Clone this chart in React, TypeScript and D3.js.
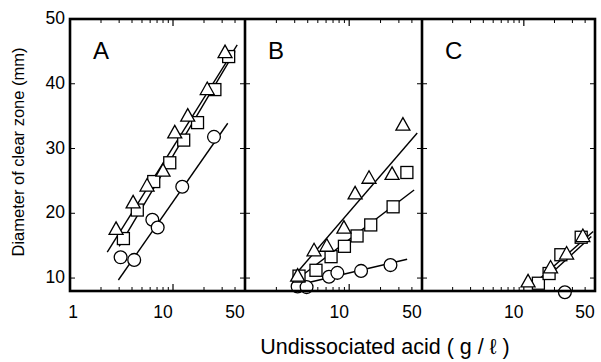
import React from "react";
import * as d3 from "d3";

// ---------- data ----------
const panelNames = ["A", "B", "C"];

// Panel A
const triA_x = [2.8, 4.1, 5.6, 8.0, 10.4, 13.9, 21.5, 32];
const triA_y = [17.7, 21.8, 24.4, 26.7, 32.6, 35.2, 39.3, 45.0];
const sqA_x = [3.3, 4.5, 6.5, 9.3, 12.7, 17.3, 25.5, 34.7];
const sqA_y = [16.1, 20.5, 24.9, 27.8, 31.3, 34.0, 39.1, 44.2];
const cirA_x = [3.1, 4.2, 6.3, 7.1, 12.3, 25.0];
const cirA_y = [13.2, 12.8, 19.0, 17.8, 24.1, 31.8];

// Panel B
const triB_x = [3.2, 4.6, 6.1, 8.9, 11.4, 15.5, 25.8, 32.8];
const triB_y = [10.5, 14.4, 15.1, 17.9, 23.2, 25.6, 26.2, 33.8];
const sqB_x = [3.3, 4.8, 6.7, 9.0, 11.9, 16.1, 26.4, 35.8];
const sqB_y = [10.3, 11.2, 13.3, 14.9, 16.5, 18.2, 21.0, 26.3];
const cirB_x = [3.2, 3.9, 6.4, 7.7, 13.0, 24.9];
const cirB_y = [8.7, 8.6, 10.2, 10.8, 11.1, 12.0];

// Panel C
const triC_x = [11.0, 18.3, 26.3, 38.0];
const triC_y = [9.6, 11.75, 13.9, 16.6];
const sqC_x = [13.9, 17.7, 23.1, 36.6];
const sqC_y = [9.2, 10.7, 13.6, 16.3];
const cirC_x = [25.3];
const cirC_y = [7.8];

// Fitted lines: [x0, x1], [y0, y1]
const lineA_tri = { x: [2.3, 42], y: [14.0, 46.0] };
const lineA_sq = { x: [3.0, 40], y: [14.9, 45.0] };
const lineA_cir = { x: [2.95, 34], y: [9.7, 33.9] };
const lineB_tri = { x: [3.3, 45], y: [11.2, 32.4] };
const lineB_sq = { x: [3.4, 42], y: [10.2, 23.6] };
const lineB_cir = { x: [3.8, 36], y: [9.2, 12.9] };
const lineC_tri = { x: [11.7, 48], y: [8.7, 17.2] };
const lineC_sq = { x: [12.8, 46], y: [8.4, 16.4] };

const yTicks = [10, 20, 30, 40, 50];
const xMinorTicks = [2, 3, 4, 5, 6, 7, 8, 9, 20, 30, 40];
const xMajorTicks = [10];
const xTickLabelsA = [1, 10, 50];
const xTickLabelsB = [10, 50];
const xTickLabelsC = [10, 50];

const yTitle = "Diameter of clear zone (mm)";
const xTitle = "Undissociated acid ( g / \u2113 )";

// ---------- layout ----------
const W = 601;
const H = 362;
const top = 19;
const bottom = 291;
const panelRanges: [number, number][] = [
  [70, 245],
  [245, 422],
  [422, 595],
];
const FONT = "'Liberation Sans', Arial, Helvetica, sans-serif";

type Line = { x: number[]; y: number[] };

const panelData = [
  {
    tri: { x: triA_x, y: triA_y },
    sq: { x: sqA_x, y: sqA_y },
    cir: { x: cirA_x, y: cirA_y },
    lines: [lineA_tri, lineA_sq, lineA_cir],
    labels: xTickLabelsA,
  },
  {
    tri: { x: triB_x, y: triB_y },
    sq: { x: sqB_x, y: sqB_y },
    cir: { x: cirB_x, y: cirB_y },
    lines: [lineB_tri, lineB_sq, lineB_cir],
    labels: xTickLabelsB,
  },
  {
    tri: { x: triC_x, y: triC_y },
    sq: { x: sqC_x, y: sqC_y },
    cir: { x: cirC_x, y: cirC_y },
    lines: [lineC_tri, lineC_sq],
    labels: xTickLabelsC,
  },
];

const y = d3.scaleLinear().domain([8, 50]).range([bottom, top]);

function Panel({ idx }: { idx: number }) {
  const [x0, x1] = panelRanges[idx];
  const x = d3.scaleLog().domain([1, 50]).range([x0, x1]);
  const d = panelData[idx];
  const lineGen = d3
    .line<[number, number]>()
    .x((p) => x(p[0]))
    .y((p) => y(p[1]));
  const sw = 1.3;
  const triPath = (cx: number, cy: number) => {
    const w = 14, h = 12.5;
    return `M${cx},${cy - h / 2}L${cx + w / 2},${cy + h / 2}L${cx - w / 2},${cy + h / 2}Z`;
  };
  const sqSize = 12;
  return (
    <g>
      {yTicks.slice(0, 4).map((v) => (
        <g key={"yt" + v}>
          <line x1={x0} x2={x0 + 5} y1={y(v)} y2={y(v)} stroke="#000" strokeWidth={1} />
          <line x1={x1 - 5} x2={x1} y1={y(v)} y2={y(v)} stroke="#000" strokeWidth={1} />
        </g>
      ))}
      {xMinorTicks.map((v) => (
        <g key={"xm" + v}>
          <line x1={x(v)} x2={x(v)} y1={bottom} y2={bottom - 4} stroke="#000" strokeWidth={1} />
          <line x1={x(v)} x2={x(v)} y1={top} y2={top + 4} stroke="#000" strokeWidth={1} />
        </g>
      ))}
      {xMajorTicks.map((v) => (
        <g key={"xM" + v}>
          <line x1={x(v)} x2={x(v)} y1={bottom} y2={bottom - 7} stroke="#000" strokeWidth={1.2} />
          <line x1={x(v)} x2={x(v)} y1={top} y2={top + 7} stroke="#000" strokeWidth={1.2} />
        </g>
      ))}
      {d.lines.map((l: Line, i: number) => (
        <path
          key={"l" + i}
          d={lineGen([
            [l.x[0], l.y[0]],
            [l.x[1], l.y[1]],
          ]) as string}
          fill="none"
          stroke="#000"
          strokeWidth={1.4}
        />
      ))}
      {d.cir.x.map((v: number, i: number) => (
        <circle key={"c" + i} cx={x(v)} cy={y(d.cir.y[i])} r={6.4} fill="#fff" stroke="#000" strokeWidth={sw} />
      ))}
      {d.sq.x.map((v: number, i: number) => (
        <rect
          key={"s" + i}
          x={x(v) - sqSize / 2}
          y={y(d.sq.y[i]) - sqSize / 2}
          width={sqSize}
          height={sqSize}
          fill="#fff"
          stroke="#000"
          strokeWidth={sw}
        />
      ))}
      {d.tri.x.map((v: number, i: number) => (
        <path key={"t" + i} d={triPath(x(v), y(d.tri.y[i]))} fill="#fff" stroke="#000" strokeWidth={sw} />
      ))}
      <text x={x0 + 23} y={59} fontFamily={FONT} fontSize={24} fill="#000">
        {panelNames[idx]}
      </text>
      {d.labels.map((v: number) => (
        <text
          key={"xl" + v}
          x={v === 1 ? x(v) + 3 : x(v) - 10}
          y={318}
          fontFamily={FONT}
          fontSize={17.5}
          textAnchor="middle"
          fill="#000"
        >
          {v}
        </text>
      ))}
    </g>
  );
}

export default function App() {
  return (
    <svg
      width={W}
      height={H}
      style={{ position: "absolute", left: 0, top: 0, background: "#fff" }}
    >
      <rect x={0} y={0} width={W} height={H} fill="#fff" />
      {panelNames.map((_, i) => (
        <Panel key={i} idx={i} />
      ))}
      <rect
        x={panelRanges[0][0]}
        y={top}
        width={panelRanges[2][1] - panelRanges[0][0]}
        height={bottom - top}
        fill="none"
        stroke="#000"
        strokeWidth={2.6}
      />
      <line x1={panelRanges[1][0]} x2={panelRanges[1][0]} y1={top} y2={bottom} stroke="#000" strokeWidth={2.6} />
      <line x1={panelRanges[2][0]} x2={panelRanges[2][0]} y1={top} y2={bottom} stroke="#000" strokeWidth={2.6} />
      {yTicks.map((v) => (
        <text
          key={"yl" + v}
          x={65}
          y={y(v) + 5}
          fontFamily={FONT}
          fontSize={17.5}
          textAnchor="end"
          fill="#000"
        >
          {v}
        </text>
      ))}
      <text
        transform={`translate(24,${152}) rotate(-90)`}
        fontFamily={FONT}
        fontSize={16.5}
        textAnchor="middle"
        fill="#000"
      >
        {yTitle}
      </text>
      <text x={385} y={354} fontFamily={FONT} fontSize={21.5} textAnchor="middle" fill="#000">
        {xTitle}
      </text>
    </svg>
  );
}
